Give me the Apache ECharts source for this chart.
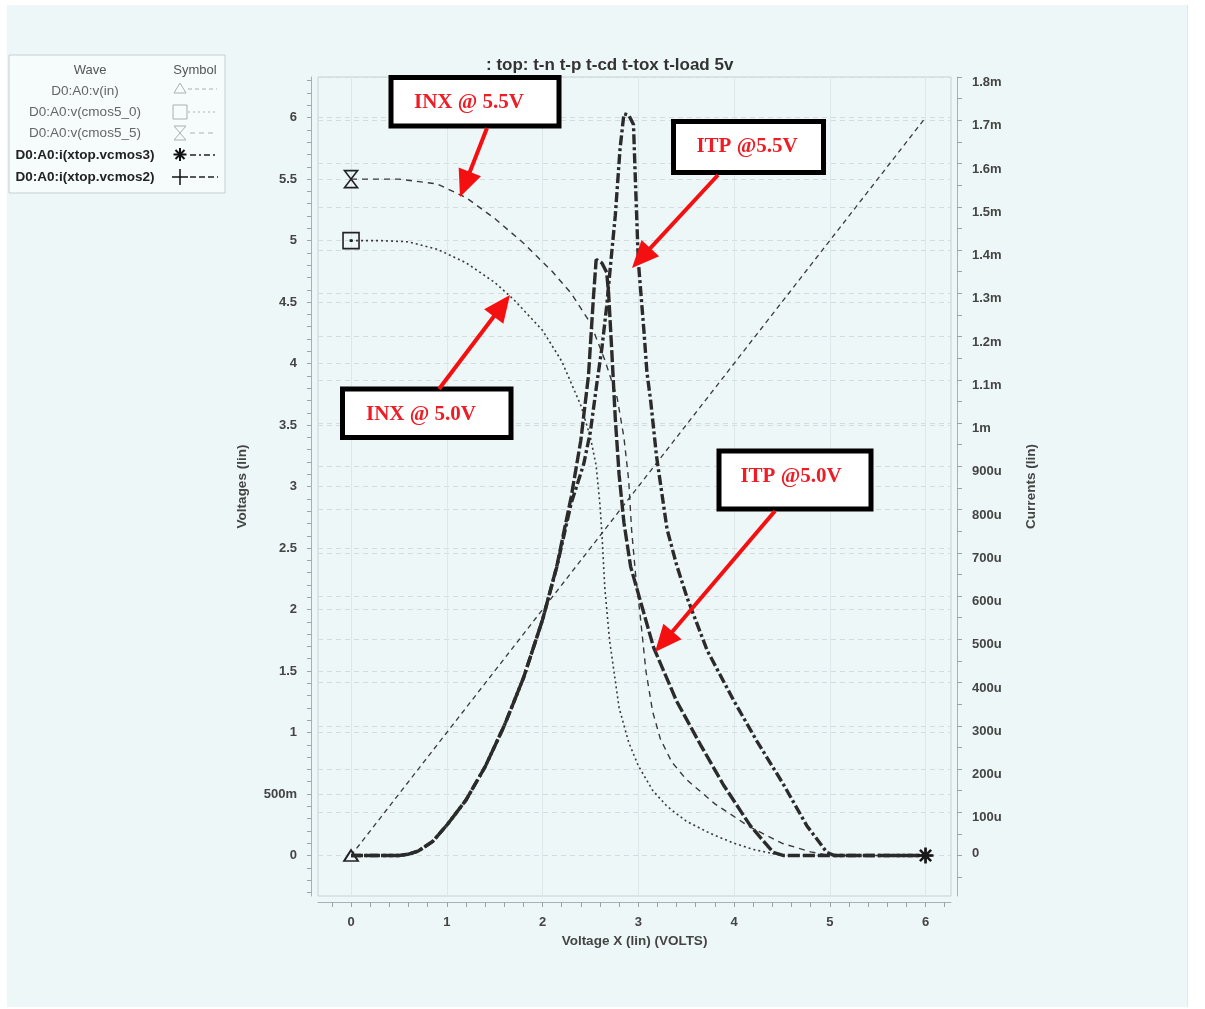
<!DOCTYPE html>
<html>
<head>
<meta charset="utf-8">
<title>top: t-n t-p t-cd t-tox t-load 5v</title>
<script src="https://cdn.jsdelivr.net/npm/echarts@6/dist/echarts.min.js"></script>
<style>
  html, body { margin: 0; padding: 0; background: #fff; }
  #page { position: relative; width: 1205px; height: 1009px; overflow: hidden; }
  #sheet { position: absolute; left: 7px; top: 5px; width: 1180px; height: 1002px;
           background: #eef7f8; border-right: 1px solid #dfe8ea; }
  #main { position: absolute; left: 0; top: 0; width: 1205px; height: 1009px; }
</style>
</head>
<body>
<div id="page">
  <div id="sheet"></div>
  <div id="main"></div>
</div>
<script>
// sweep voltage X (volts) and node voltages (volts)
const vinX = [0, 6];
const vinY = [0, 6];

const cmos50X = [0, 0.3, 0.6, 0.9, 1.2, 1.5, 1.7, 2.0, 2.2, 2.4, 2.5, 2.56, 2.6, 2.62, 2.65, 2.7, 2.8, 2.9, 3.0, 3.15, 3.3, 3.5, 3.75, 4.0, 4.2, 4.5, 6];
const cmos50Y = [5.0, 5.0, 4.99, 4.93, 4.82, 4.66, 4.52, 4.27, 4.02, 3.66, 3.40, 3.17, 2.85, 2.62, 2.18, 1.75, 1.2, 0.92, 0.73, 0.53, 0.40, 0.28, 0.18, 0.10, 0.05, 0.0, 0.0];

const cmos55X = [0, 0.5, 0.9, 1.2, 1.5, 1.8, 2.1, 2.3, 2.5, 2.65, 2.78, 2.85, 2.9, 2.93, 2.97, 3.02, 3.08, 3.15, 3.23, 3.35, 3.5, 3.8, 4.15, 4.5, 4.8, 5.0, 6];
const cmos55Y = [5.5, 5.5, 5.46, 5.35, 5.18, 4.98, 4.75, 4.57, 4.33, 4.03, 3.72, 3.4, 3.05, 2.65, 2.3, 1.95, 1.5, 1.17, 0.95, 0.76, 0.62, 0.42, 0.24, 0.1, 0.03, 0.0, 0.0];

// supply currents (microamps)
const vcmos3X = [0, 0.5, 0.6, 0.7, 0.85, 1.0, 1.2, 1.4, 1.6, 1.8, 2.0, 2.15, 2.3, 2.43, 2.5, 2.57, 2.62, 2.67, 2.71, 2.76, 2.81, 2.85, 2.9, 2.95, 2.97, 3.0, 3.06, 3.09, 3.13, 3.19, 3.3, 3.4, 3.51, 3.72, 4.0, 4.24, 4.52, 4.76, 4.97, 5.05, 6];
const vcmos3Y = [0, 0, 3, 10, 32, 70, 128, 205, 300, 410, 545, 668, 815, 905, 980, 1096, 1173, 1270, 1365, 1480, 1635, 1715, 1712, 1690, 1560, 1375, 1210, 1118, 1050, 924, 755, 672, 596, 474, 357, 264, 163, 69, 7, 0, 0];

const vcmos2X = [0, 0.5, 0.6, 0.7, 0.85, 1.0, 1.2, 1.4, 1.6, 1.8, 2.0, 2.15, 2.3, 2.4, 2.48, 2.53, 2.56, 2.62, 2.67, 2.69, 2.72, 2.76, 2.8, 2.85, 2.92, 3.02, 3.16, 3.4, 3.65, 3.89, 4.17, 4.41, 4.52, 6];
const vcmos2Y = [0, 0, 3, 10, 32, 70, 128, 205, 300, 410, 545, 670, 830, 960, 1110, 1285, 1378, 1370, 1348, 1300, 1180, 1010, 880, 770, 668, 590, 481, 357, 256, 163, 69, 7, 0, 0];

// tick positions / labels
const xLabelVals = [0, 1, 2, 3, 4, 5, 6];
const leftLabelVals = [0, 0.5, 1, 1.5, 2, 2.5, 3, 3.5, 4, 4.5, 5, 5.5, 6];
const rightLabelVals = [0, 100, 200, 300, 400, 500, 600, 700, 800, 900, 1000, 1100, 1200, 1300, 1400, 1500, 1600, 1700, 1800];

function steps(a, b, s) {
  const out = [];
  for (let v = a; v <= b + 1e-9; v += s) out.push(Math.round(v * 1000) / 1000);
  return out;
}
const xTickVals = steps(-0.2, 6.2, 0.2);
const leftTickVals = steps(-0.3, 6.3, 0.1);
const rightTickVals = steps(-50, 1800, 50);

const FONT = '"Liberation Sans", Arial, sans-serif';
const labelStyle = { color: '#444', fontWeight: 'bold', fontSize: 13, fontFamily: FONT };
const nameStyle = { color: '#444', fontWeight: 'bold', fontSize: 13.5, fontFamily: FONT };
const gridLine = { color: '#d3dde0', width: 1, type: [5, 4] };

function pts(xs, ys) { return xs.map((x, i) => [x, ys[i]]); }

function arrow(x1, y1, x2, y2) {
  const dx = x2 - x1, dy = y2 - y1, len = Math.hypot(dx, dy);
  const ux = dx / len, uy = dy / len;
  const hl = 27, hw = 12;
  const bx = x2 - ux * hl, by = y2 - uy * hl;
  return [
    { type: 'line', z: 100, shape: { x1: x1, y1: y1, x2: bx + ux * 2, y2: by + uy * 2 },
      style: { stroke: '#f41010', lineWidth: 4 } },
    { type: 'polygon', z: 100,
      shape: { points: [[x2, y2], [bx - uy * hw, by + ux * hw], [bx + uy * hw, by - ux * hw]] },
      style: { fill: '#f41010' } }
  ];
}
function callout(x, y, w, h, label, tx, ty) {
  return [
    { type: 'rect', z: 100, shape: { x: x, y: y, width: w, height: h },
      style: { fill: '#fff', stroke: '#000', lineWidth: 5 } },
    { type: 'text', z: 101, x: tx, y: ty,
      style: { text: label, fill: '#ee1c24', font: 'bold 21px "Liberation Serif", "Times New Roman", serif',
               align: 'center', verticalAlign: 'middle' } }
  ];
}

// legend box (Wave / Symbol)
const legendRows = [
  { name: 'D0:A0:v(in)', bold: false, y: 91 },
  { name: 'D0:A0:v(cmos5_0)', bold: false, y: 112 },
  { name: 'D0:A0:v(cmos5_5)', bold: false, y: 133 },
  { name: 'D0:A0:i(xtop.vcmos3)', bold: true, y: 155 },
  { name: 'D0:A0:i(xtop.vcmos2)', bold: true, y: 177 }
];
const legendEls = [
  { type: 'rect', shape: { x: 9, y: 55, width: 216, height: 138 },
    style: { fill: '#f6fbfb', stroke: '#c6cfd2', lineWidth: 1 } },
  { type: 'text', x: 90, y: 70, style: { text: 'Wave', fill: '#555', font: '13px ' + FONT, align: 'center', verticalAlign: 'middle' } },
  { type: 'text', x: 195, y: 70, style: { text: 'Symbol', fill: '#555', font: '13px ' + FONT, align: 'center', verticalAlign: 'middle' } }
];
legendRows.forEach(r => {
  legendEls.push({ type: 'text', x: 85, y: r.y,
    style: { text: r.name, fill: r.bold ? '#222' : '#666', font: (r.bold ? 'bold ' : '') + '13.5px ' + FONT,
             align: 'center', verticalAlign: 'middle' } });
});
const lg = '#a9b1b4';
legendEls.push(
  { type: 'polygon', shape: { points: [[174, 93], [180, 83], [186, 93]] }, style: { fill: 'none', stroke: lg, lineWidth: 1 } },
  { type: 'line', shape: { x1: 188, y1: 89, x2: 217, y2: 89 }, style: { stroke: lg, lineDash: [4, 3] } },
  { type: 'rect', shape: { x: 173, y: 105, width: 14, height: 14 }, style: { fill: 'none', stroke: lg, lineWidth: 1 } },
  { type: 'line', shape: { x1: 188, y1: 112, x2: 217, y2: 112 }, style: { stroke: lg, lineDash: [2, 3] } },
  { type: 'polygon', shape: { points: [[174, 126], [186, 126], [174, 140], [186, 140]] }, style: { fill: 'none', stroke: lg, lineWidth: 1 } },
  { type: 'line', shape: { x1: 190, y1: 133, x2: 217, y2: 133 }, style: { stroke: lg, lineDash: [5, 4] } },
  { type: 'polyline', shape: { points: [[180, 148], [180, 161]] }, style: { stroke: '#111', lineWidth: 2 } },
  { type: 'polyline', shape: { points: [[173.5, 154.5], [186.5, 154.5]] }, style: { stroke: '#111', lineWidth: 2 } },
  { type: 'polyline', shape: { points: [[175.5, 150], [184.5, 159]] }, style: { stroke: '#111', lineWidth: 2 } },
  { type: 'polyline', shape: { points: [[184.5, 150], [175.5, 159]] }, style: { stroke: '#111', lineWidth: 2 } },
  { type: 'line', shape: { x1: 190, y1: 155, x2: 218, y2: 155 }, style: { stroke: '#222', lineWidth: 1.5, lineDash: [6, 3, 2, 3] } },
  { type: 'polyline', shape: { points: [[180, 169], [180, 185]] }, style: { stroke: '#111', lineWidth: 1.5 } },
  { type: 'polyline', shape: { points: [[172, 177], [188, 177]] }, style: { stroke: '#111', lineWidth: 1.5 } },
  { type: 'line', shape: { x1: 190, y1: 177, x2: 218, y2: 177 }, style: { stroke: '#222', lineWidth: 1.5, lineDash: [6, 3] } }
);

const annotations = [].concat(
  callout(391, 77.5, 168, 48.5, 'INX @ 5.5V', 469, 103),
  arrow(487, 128, 460, 197),
  callout(673.5, 121.5, 150, 51, 'ITP @5.5V', 747, 147),
  arrow(718, 175, 632, 268),
  callout(342.5, 389, 168.5, 48.5, 'INX @ 5.0V', 421, 415),
  arrow(439, 389, 510, 295),
  callout(719, 451, 152, 58, 'ITP @5.0V', 791, 477),
  arrow(775, 511, 655, 652)
);

const xMin = -0.345, xMax = 6.266;
const vMin = -0.329, vMax = 6.33;
const iMin = -93.6, iMax = 1800;

const chart = echarts.init(document.getElementById('main'));
const option = {
  animation: false,
  backgroundColor: 'transparent',
  title: {
    text: ': top: t-n t-p t-cd t-tox t-load 5v',
    left: 481, top: 52,
    textStyle: { fontSize: 17, fontWeight: 'bold', color: '#333', fontFamily: FONT }
  },
  grid: {
    left: 318, right: 254, top: 77, bottom: 113,
    show: true, borderColor: '#c6d0d3', borderWidth: 1, backgroundColor: 'transparent'
  },
  xAxis: [
    {
      type: 'value', min: xMin, max: xMax, position: 'bottom', offset: 6,
      axisLine: { show: true, onZero: false, lineStyle: { color: '#a7b1b4', width: 1 } },
      axisTick: { show: true, customValues: xTickVals, length: 5, lineStyle: { color: '#9aa4a8' } },
      axisLabel: { customValues: xLabelVals, margin: 14, ...labelStyle },
      splitLine: { show: false },
      name: 'Voltage X (lin) (VOLTS)', nameLocation: 'middle', nameGap: 27,
      nameTextStyle: { ...nameStyle }
    },
    {
      type: 'value', min: xMin, max: xMax, position: 'bottom',
      axisLine: { show: false }, axisLabel: { show: false, customValues: xLabelVals },
      axisTick: { show: false, customValues: xLabelVals },
      splitLine: { show: true, lineStyle: { color: '#dde8ea', width: 1 } }
    }
  ],
  yAxis: [
    {
      type: 'value', min: vMin, max: vMax, position: 'left', offset: 7,
      axisLine: { show: true, onZero: false, lineStyle: { color: '#a7b1b4', width: 1 } },
      axisTick: { show: true, customValues: leftTickVals, length: 4, lineStyle: { color: '#9aa4a8' } },
      axisLabel: { customValues: leftLabelVals, margin: 14, ...labelStyle,
                   formatter: v => (Math.abs(v - 0.5) < 1e-9 ? '500m' : String(v)) },
      splitLine: { show: false },
      name: 'Voltages (lin)', nameLocation: 'middle', nameGap: 62, nameTextStyle: { ...nameStyle }
    },
    {
      type: 'value', min: iMin, max: iMax, position: 'right', offset: 6,
      axisLine: { show: true, onZero: false, lineStyle: { color: '#a7b1b4', width: 1 } },
      axisTick: { show: true, customValues: rightTickVals, length: 5, lineStyle: { color: '#9aa4a8' } },
      axisLabel: {
        customValues: rightLabelVals, margin: 15, ...labelStyle,
        formatter: v => (v === 0 ? '{z|0}' : '{a|' + (v < 1000 ? v + 'u' : (v / 1000) + 'm') + '}'),
        rich: {
          a: { ...labelStyle, padding: [11, 0, 0, 0] },
          z: { ...labelStyle, padding: [0, 0, 5, 0] }
        }
      },
      splitLine: { show: false },
      name: 'Currents (lin)', nameLocation: 'middle', nameGap: 67, nameTextStyle: { ...nameStyle }
    },
    {
      type: 'value', min: vMin, max: vMax, position: 'left',
      axisLine: { show: false }, axisLabel: { show: false, customValues: leftLabelVals },
      axisTick: { show: false, customValues: leftLabelVals },
      splitLine: { show: true, lineStyle: gridLine }
    },
    {
      type: 'value', min: iMin, max: iMax, position: 'right',
      axisLine: { show: false }, axisLabel: { show: false, customValues: rightLabelVals },
      axisTick: { show: false, customValues: rightLabelVals },
      splitLine: { show: true, lineStyle: gridLine }
    }
  ],
  graphic: { elements: legendEls.concat(annotations) },
  series: [
    {
      name: 'D0:A0:v(in)', type: 'line', xAxisIndex: 0, yAxisIndex: 0,
      data: pts(vinX, vinY), smooth: false, showAllSymbol: true,
      symbol: 'triangle', symbolSize: (v, p) => (p.dataIndex === 0 ? [14, 11] : 0),
      itemStyle: { color: '#eef7f8', borderColor: '#222', borderWidth: 1.8 },
      lineStyle: { color: '#3a3a3a', width: 1.3, type: [5, 4] }, z: 3
    },
    {
      name: 'D0:A0:v(cmos5_0)', type: 'line', xAxisIndex: 0, yAxisIndex: 0,
      data: pts(cmos50X, cmos50Y), smooth: false, showAllSymbol: true,
      symbol: 'path://M0,0H14V14H0Z M6.5,6.5H7.5V7.5H6.5Z',
      symbolSize: (v, p) => (p.dataIndex === 0 ? 16 : 0),
      itemStyle: { color: 'none', borderColor: '#222', borderWidth: 1.6 },
      lineStyle: { color: '#3a3a3a', width: 1.6, type: [2, 3] }, z: 3
    },
    {
      name: 'D0:A0:v(cmos5_5)', type: 'line', xAxisIndex: 0, yAxisIndex: 0,
      data: pts(cmos55X, cmos55Y), smooth: false, showAllSymbol: true,
      symbol: 'path://M0,0H12L0,16H12Z',
      symbolSize: (v, p) => (p.dataIndex === 0 ? [13, 17] : 0),
      itemStyle: { color: 'none', borderColor: '#222', borderWidth: 1.6 },
      lineStyle: { color: '#3a3a3a', width: 1.4, type: [6, 5] }, z: 3
    },
    {
      name: 'D0:A0:i(xtop.vcmos2)', type: 'line', xAxisIndex: 0, yAxisIndex: 1,
      data: pts(vcmos2X, vcmos2Y), smooth: false, showAllSymbol: true,
      symbol: 'path://M6,0V12M0,6H12',
      symbolSize: (v, p) => (p.dataIndex === vcmos2X.length - 1 ? 14 : 0),
      itemStyle: { color: 'none', borderColor: '#222', borderWidth: 2 },
      lineStyle: { color: '#2b2b2b', width: 3.4, type: [12, 3] }, z: 4
    },
    {
      name: 'D0:A0:i(xtop.vcmos3)', type: 'line', xAxisIndex: 0, yAxisIndex: 1,
      data: pts(vcmos3X, vcmos3Y), smooth: false, showAllSymbol: true,
      symbol: 'path://M6,0V12M0,6H12M1.8,1.8L10.2,10.2M10.2,1.8L1.8,10.2',
      symbolSize: (v, p) => (p.dataIndex === vcmos3X.length - 1 ? 16 : 0),
      itemStyle: { color: 'none', borderColor: '#1a1a1a', borderWidth: 2.6 },
      lineStyle: { color: '#2b2b2b', width: 3.4, type: [10, 3, 3, 3] }, z: 5
    }
  ]
};
chart.setOption(option);
</script>
</body>
</html>
